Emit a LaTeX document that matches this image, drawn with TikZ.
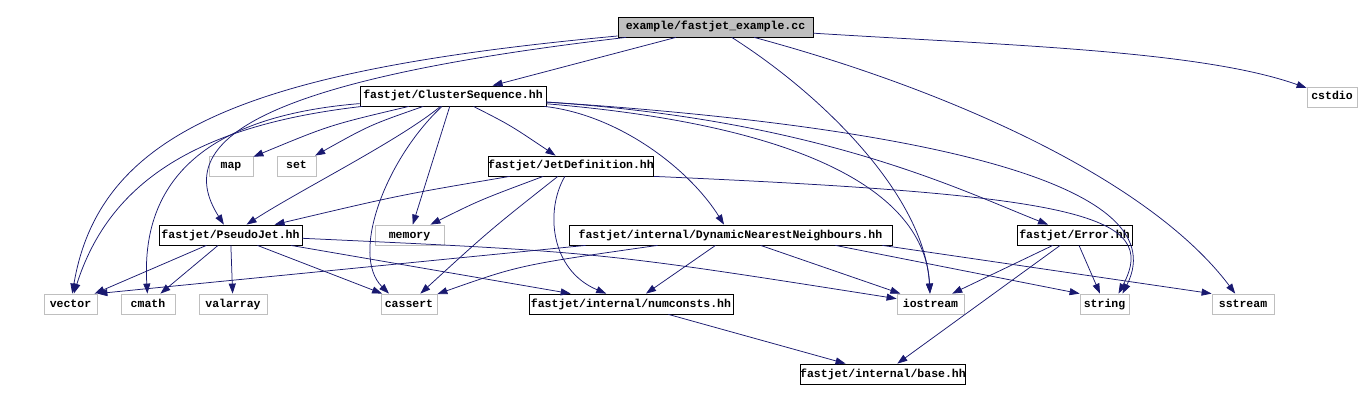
\documentclass[tikz,border=0pt]{standalone}
\usepackage{fontspec}
\setmonofont{Liberation Mono}
\usepackage{tikz}
\usetikzlibrary{positioning,arrows.meta}
\definecolor{incblue}{HTML}{191970}
\definecolor{sysgray}{HTML}{BFBFBF}
\newcommand{\hfont}{\ttfamily\bfseries\fontsize{11.5}{13}\selectfont}

\begin{document}
\begin{tikzpicture}[x=1pt,y=-1pt,node distance=10pt,on grid,
  hdr/.style={draw=black,fill=white,line width=0.8pt,minimum height=20pt,inner sep=0pt,
    text height=8.5pt,text depth=2.5pt,font=\hfont},
  sys/.style={hdr,draw=sysgray},
  top/.style={hdr,fill=sysgray},
  inc/.style={draw=incblue,line width=0.75pt,-{Triangle[length=10pt,width=7pt]}}]
\fill[white] (0,0) rectangle (1361,401);
\useasboundingbox (0,0) rectangle (1361,401);

\node[top,minimum width=195pt](h_main) at (715.5,27){example/fastjet\_example.cc};
\node[hdr,minimum width=186pt](h_cs) at (453,96){fastjet/ClusterSequence.hh};
\node[sys,minimum width=50pt](s_cstdio)[right=879pt of h_cs,yshift=-1pt]{cstdio};
\node[sys,minimum width=44pt](s_map) at (231,166){map};
\node[sys,minimum width=39pt](s_set)[right=65.5pt of s_map]{set};
\node[hdr,minimum width=164pt](h_jd)[right=274.5pt of s_set]{fastjet/JetDefinition.hh};
\node[hdr,minimum width=143pt](h_pj) at (230.5,235){fastjet/PseudoJet.hh};
\node[sys,minimum width=69pt](s_memory)[right=179pt of h_pj]{memory};
\node[hdr,minimum width=323pt](h_dnn)[right=321pt of s_memory]{fastjet/internal/DynamicNearestNeighbours.hh};
\node[hdr,minimum width=115pt](h_err)[right=344pt of h_dnn]{fastjet/Error.hh};
\node[sys,minimum width=53pt](s_vector) at (70.5,304){vector};
\node[sys,minimum width=54pt](s_cmath)[right=77.5pt of s_vector]{cmath};
\node[sys,minimum width=68pt](s_valarray)[right=85pt of s_cmath]{valarray};
\node[sys,minimum width=56pt](s_cassert)[right=176pt of s_valarray]{cassert};
\node[hdr,minimum width=204pt](h_nc)[right=222pt of s_cassert]{fastjet/internal/numconsts.hh};
\node[sys,minimum width=67pt](s_iostream)[right=299.5pt of h_nc]{iostream};
\node[sys,minimum width=49pt](s_string)[right=174pt of s_iostream]{string};
\node[sys,minimum width=62pt](s_sstream)[right=138.5pt of s_string]{sstream};
\node[hdr,minimum width=162pt](h_base) at (883,374){fastjet/internal/base.hh};

\draw[inc] (h_main) .. controls (250,70) and (100,130) .. (s_vector);
\draw[inc] (h_main) .. controls (260,80) and (170,140) .. (h_pj);
\draw[inc] (h_main) -- (h_cs);
\draw[inc] (h_main) .. controls (830,100) and (925,200) .. (s_iostream);
\draw[inc] (h_main) .. controls (950,90) and (1150,180) .. (s_sstream);
\draw[inc] (h_main) .. controls (1000,45) and (1200,50) .. (s_cstdio);

\draw[inc] (h_cs) .. controls (200,125) and (110,180) .. (s_vector);
\draw[inc] (h_cs) .. controls (220,115) and (140,170) .. (s_cmath);
\draw[inc] (h_cs) .. controls (330,125) .. (s_map);
\draw[inc] (h_cs) .. controls (370,125) .. (s_set);
\draw[inc] (h_cs) .. controls (400,140) and (300,190) .. (h_pj);
\draw[inc] (h_cs) .. controls (385,160) and (350,255) .. ([xshift=-20pt]s_cassert.north);
\draw[inc] (h_cs) -- (s_memory);
\draw[inc] (h_cs) .. controls (510,125) .. (h_jd);
\draw[inc] (h_cs) .. controls (620,115) and (690,170) .. (h_dnn);
\draw[inc] (h_cs) .. controls (800,125) and (925,190) .. (s_iostream);
\draw[inc] (h_cs) .. controls (820,120) and (960,190) .. (h_err);
\draw[inc] (h_cs) .. controls (900,125) and (1180,180) .. ([xshift=18pt]s_string.north);

\draw[inc] (h_jd) .. controls (400,195) .. (h_pj);
\draw[inc] (h_jd) .. controls (480,200) .. (s_memory);
\draw[inc] (h_jd) .. controls (490,230) .. (s_cassert);
\draw[inc] (h_jd) .. controls (545,210) and (550,270) .. (h_nc);
\draw[inc] (h_jd.south east) .. controls (1080,195) and (1160,215) .. ([xshift=14pt]s_string.north);

\draw[inc] (h_pj) -- (s_vector);
\draw[inc] (h_pj) -- (s_cmath);
\draw[inc] (h_pj) -- (s_valarray);
\draw[inc] (h_pj) -- (s_cassert);
\draw[inc] (h_pj) -- (h_nc);
\draw[inc] (h_pj) .. controls (600,252) .. (s_iostream);

\draw[inc] ([xshift=17pt]h_dnn.south west) -- (s_vector.north east);
\draw[inc] (h_dnn) .. controls (520,265) .. (s_cassert);
\draw[inc] (h_dnn) -- (h_nc);
\draw[inc] (h_dnn) -- (s_iostream);
\draw[inc] ([xshift=-57pt]h_dnn.south east) -- (s_string.north west);
\draw[inc] ([xshift=-10pt]h_dnn.south east) -- (s_sstream.north west);

\draw[inc] (h_err) -- (s_iostream);
\draw[inc] (h_err) -- (s_string);
\draw[inc] (h_err) -- (h_base);
\draw[inc] (h_nc) -- (h_base);
\end{tikzpicture}
\end{document}
